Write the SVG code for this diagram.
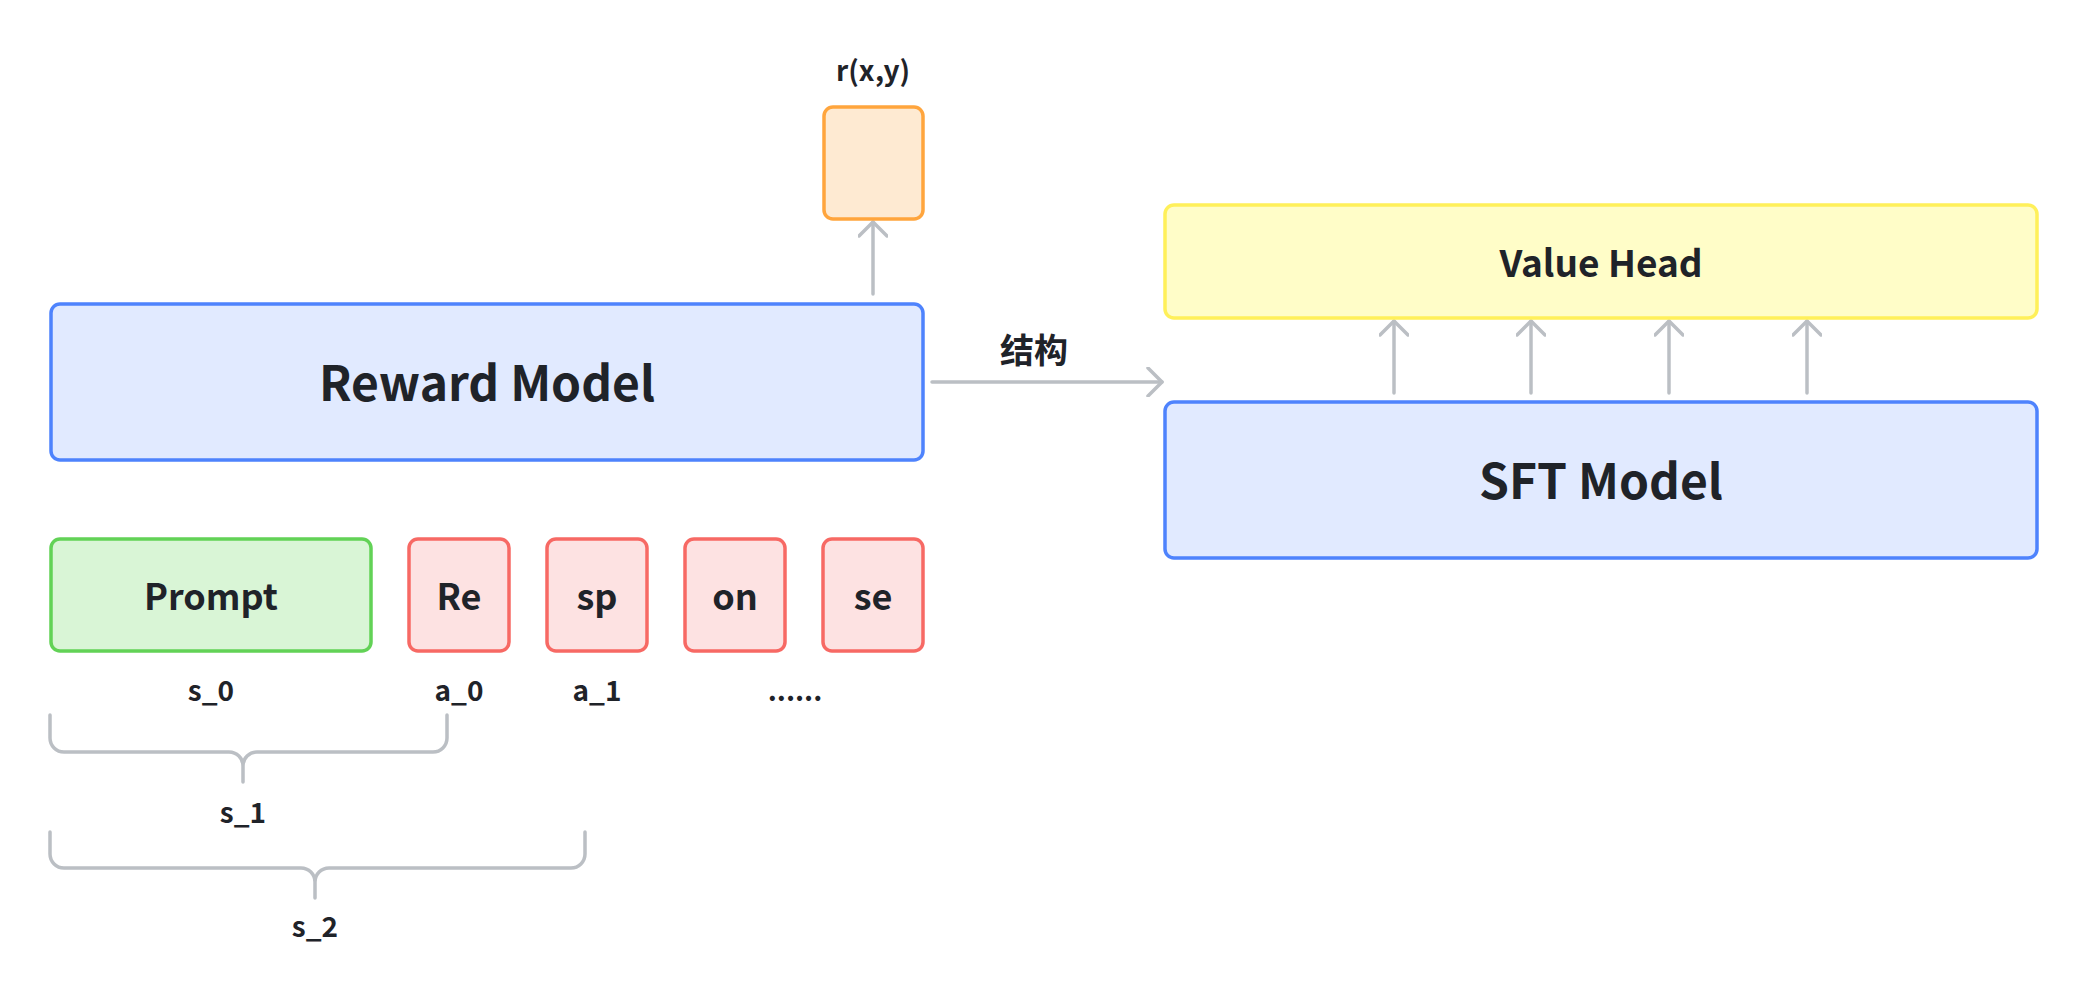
<svg xmlns="http://www.w3.org/2000/svg" width="2088" height="994" viewBox="0 0 2088 994">
<style>
  .t { font-family: "Noto Sans CJK SC", "Noto Sans", sans-serif; font-weight: 700; fill: #1F2329; text-anchor: middle; dominant-baseline: central; }
  .box { stroke-width: 3.5; }
  .blue { fill: #E1EAFF; stroke: #4E83FD; }
  .yellow { fill: #FFFDC8; stroke: #FFF05A; }
  .orange { fill: #FEEAD2; stroke: #FFA53D; }
  .green { fill: #D9F5D6; stroke: #62D256; }
  .red { fill: #FDE2E2; stroke: #F76964; }
  .conn { fill: none; stroke: #BBBFC4; stroke-width: 3.5; stroke-linecap: round; stroke-linejoin: round; }
</style>
<defs>
  <marker id="arrow" viewBox="0 0 20 30" refX="18" refY="15" markerWidth="20" markerHeight="30" markerUnits="userSpaceOnUse" orient="auto">
    <path d="M4,1 L18,15 L4,29" fill="none" stroke="#BBBFC4" stroke-width="3.5" stroke-linecap="round" stroke-linejoin="round"/>
  </marker>
</defs>
<rect width="2088" height="994" fill="#FFFFFF"/>

<g id="connectors">
  <line class="conn" x1="873" y1="294" x2="873" y2="222" marker-end="url(#arrow)"/>
  <line class="conn" x1="932" y1="382" x2="1162" y2="382" marker-end="url(#arrow)"/>
  <line class="conn" x1="1394" y1="393" x2="1394" y2="321" marker-end="url(#arrow)"/>
  <line class="conn" x1="1531" y1="393" x2="1531" y2="321" marker-end="url(#arrow)"/>
  <line class="conn" x1="1669" y1="393" x2="1669" y2="321" marker-end="url(#arrow)"/>
  <line class="conn" x1="1807" y1="393" x2="1807" y2="321" marker-end="url(#arrow)"/>
  <text class="t" x="1034" y="348" font-size="34">结构</text>
</g>

<g id="reward-output">
  <rect class="box orange" x="824" y="107" width="99" height="112" rx="9"/>
  <text class="t" x="873" y="69" font-size="28">r(x,y)</text>
</g>

<g id="reward-model">
  <rect class="box blue" x="51" y="304" width="872" height="156" rx="9"/>
  <text class="t" x="487" y="380" font-size="48">Reward Model</text>
</g>

<g id="value-head">
  <rect class="box yellow" x="1165" y="205" width="872" height="113" rx="9"/>
  <text class="t" x="1601" y="261" font-size="37">Value Head</text>
</g>

<g id="sft-model">
  <rect class="box blue" x="1165" y="402" width="872" height="156" rx="9"/>
  <text class="t" x="1601" y="478" font-size="48">SFT Model</text>
</g>

<g id="prompt">
  <rect class="box green" x="51" y="539" width="320" height="112" rx="9"/>
  <text class="t" x="211" y="594" font-size="36">Prompt</text>
</g>
<g id="tok-re">
  <rect class="box red" x="409" y="539" width="100" height="112" rx="9"/>
  <text class="t" x="459" y="594" font-size="36">Re</text>
</g>
<g id="tok-sp">
  <rect class="box red" x="547" y="539" width="100" height="112" rx="9"/>
  <text class="t" x="597" y="594" font-size="36">sp</text>
</g>
<g id="tok-on">
  <rect class="box red" x="685" y="539" width="100" height="112" rx="9"/>
  <text class="t" x="735" y="594" font-size="36">on</text>
</g>
<g id="tok-se">
  <rect class="box red" x="823" y="539" width="100" height="112" rx="9"/>
  <text class="t" x="873" y="594" font-size="36">se</text>
</g>

<g id="labels">
  <text class="t" x="211" y="689" font-size="28">s_0</text>
  <text class="t" x="459" y="689" font-size="28">a_0</text>
  <text class="t" x="597" y="689" font-size="28">a_1</text>
  <text class="t" x="795" y="689" font-size="28">......</text>
</g>

<g id="brace-s1">
  <path class="conn" d="M50,715 V738 A14,14 0 0 0 64,752 H229 A14,14 0 0 1 243,766 V782 M243,766 A14,14 0 0 1 257,752 H433 A14,14 0 0 0 447,738 V715"/>
  <text class="t" x="243" y="811" font-size="28">s_1</text>
</g>

<g id="brace-s2">
  <path class="conn" d="M50,832 V854 A14,14 0 0 0 64,868 H301 A14,14 0 0 1 315,882 V898 M315,882 A14,14 0 0 1 329,868 H571 A14,14 0 0 0 585,854 V832"/>
  <text class="t" x="315" y="925" font-size="28">s_2</text>
</g>
</svg>
